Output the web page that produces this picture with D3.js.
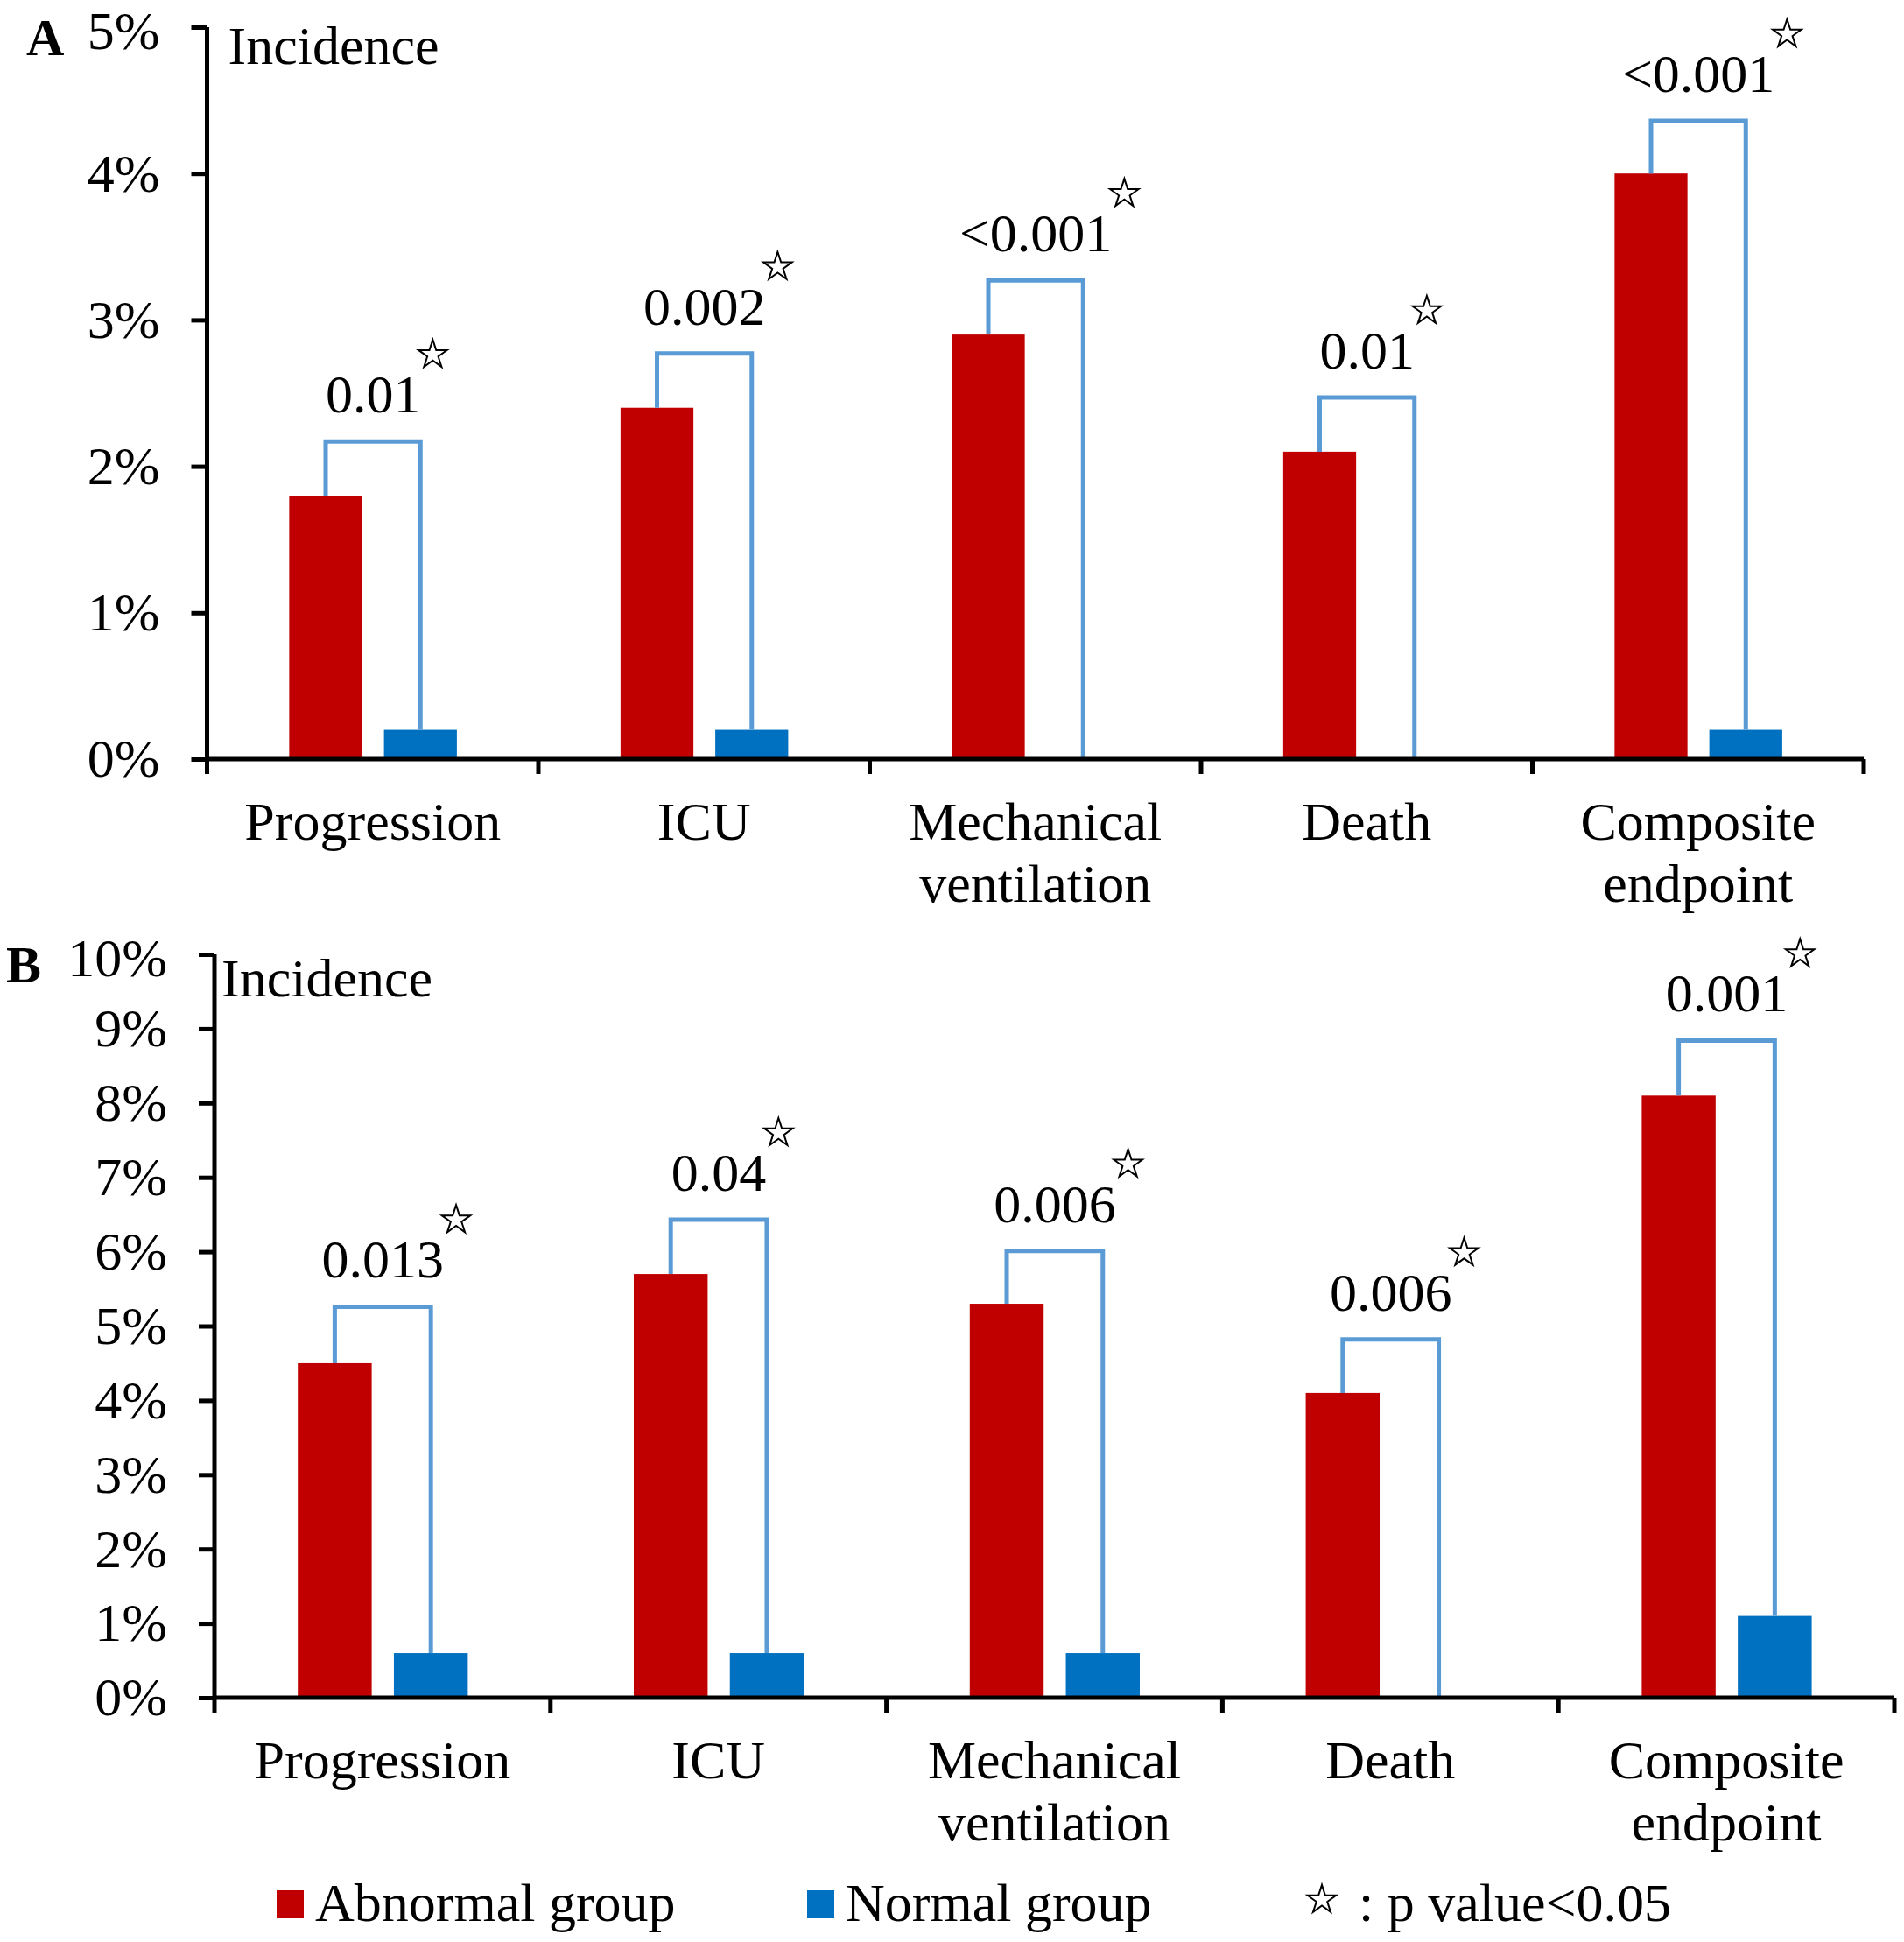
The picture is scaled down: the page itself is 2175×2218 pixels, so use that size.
<!DOCTYPE html>
<html>
<head>
<meta charset="utf-8">
<script src="https://cdn.jsdelivr.net/npm/d3@7"></script>
<style>
  body { margin: 0; background: #fff; }
  svg { display: block; }
  text { font-family: "Liberation Serif", "Times New Roman", serif; fill: #000; }
</style>
</head>
<body>
<svg id="chart" width="2175" height="2218"></svg>
<script>
// Categories (two-line labels split by \n)
const categories = ['Progression', 'ICU', 'Mechanical\nventilation', 'Death', 'Composite\nendpoint'];

// Panel A: incidence (%)
const abnormalA = [1.8, 2.4, 2.9, 2.1, 4.0];
const normalA   = [0.2, 0.2, 0.0, 0.0, 0.2];
const bracketA  = [2.17, 2.77, 3.27, 2.47, 4.36];
const pValuesA  = ['0.01', '0.002', '<0.001', '0.01', '<0.001'];
const ticksA    = [0, 1, 2, 3, 4, 5];

// Panel B: incidence (%)
const abnormalB = [4.5, 5.7, 5.3, 4.1, 8.1];
const normalB   = [0.6, 0.6, 0.6, 0.0, 1.1];
const bracketB  = [5.26, 6.43, 6.01, 4.82, 8.84];
const pValuesB  = ['0.013', '0.04', '0.006', '0.006', '0.001'];
const ticksB    = [0, 1, 2, 3, 4, 5, 6, 7, 8, 9, 10];

const RED = '#c00000', BLUE = '#0070c0', BRACKET = '#5b9bd5';
const FONT = 62;

const svg = d3.select('#chart');
svg.append('rect').attr('width', 2175).attr('height', 2218).attr('fill', '#fff');

const star = d3.symbol().type(d3.symbolStar).size(330);

function drawPanel(opt) {
    const g = svg.append('g');
    const x = d3.scaleBand().domain(categories).range([opt.left, opt.right]);
    const y = d3.scaleLinear().domain([0, opt.max]).range([opt.bottom, opt.top]);
    const bw = x.bandwidth();
    const barW = bw * 0.22;
    const redX  = c => x(c) + bw * 0.248;
    const blueX = c => x(c) + bw * 0.534;

    // bars
    g.selectAll('rect.abn').data(categories).join('rect')
        .attr('x', c => redX(c)).attr('width', barW)
        .attr('y', (c, i) => y(opt.abnormal[i]))
        .attr('height', (c, i) => y(0) - y(opt.abnormal[i]))
        .attr('fill', RED);
    g.selectAll('rect.nor').data(categories).join('rect')
        .attr('x', c => blueX(c)).attr('width', barW)
        .attr('y', (c, i) => y(opt.normal[i]))
        .attr('height', (c, i) => y(0) - y(opt.normal[i]))
        .attr('fill', BLUE);

    // significance brackets
    g.selectAll('path.br').data(categories).join('path')
        .attr('fill', 'none')
        .attr('stroke', BRACKET)
        .attr('stroke-width', 5)
        .attr('d', (c, i) => {
            const x1 = redX(c) + barW / 2, x2 = blueX(c) + barW / 2;
            return `M${x1},${y(opt.abnormal[i])}V${y(opt.bracket[i])}H${x2}V${y(opt.normal[i])}`;
        });

    // p-values + stars
    categories.forEach((c, i) => {
        const cx = (redX(c) + blueX(c) + barW) / 2;
        const base = y(opt.bracket[i]) - 33;
        const t = g.append('text')
            .attr('x', cx).attr('y', base)
            .attr('text-anchor', 'middle')
            .style('font-size', FONT + 'px')
            .text(opt.p[i]);
        const bb = t.node().getBBox();
        g.append('path')
            .attr('d', star)
            .attr('transform', `translate(${bb.x + bb.width + 14},${base - 66})`)
            .attr('fill', '#fff').attr('stroke', '#000').attr('stroke-width', 2);
    });

    // y axis
    const yAxis = g.append('g')
        .attr('transform', `translate(${opt.left},0)`)
        .call(d3.axisLeft(y).tickValues(opt.ticks).tickFormat(d => d + '%')
            .tickSize(18).tickPadding(opt.tickPad));
    yAxis.select('.domain').attr('stroke', '#000').attr('stroke-width', 5)
        .attr('d', `M0,${opt.top}V${opt.bottom}`);
    yAxis.selectAll('.tick line').attr('stroke', '#000').attr('stroke-width', 5);
    yAxis.selectAll('.tick text')
        .attr('font-family', null)
        .style('font-size', FONT + 'px').attr('fill', '#000');
    // keep the top label inside the page edge
    yAxis.selectAll('.tick text').filter(d => d === opt.max).attr('dy', '0.4em');

    // x axis with ticks at category boundaries
    const xg = g.append('g');
    xg.append('line')
        .attr('x1', opt.left).attr('x2', opt.right)
        .attr('y1', opt.bottom).attr('y2', opt.bottom)
        .attr('stroke', '#000').attr('stroke-width', 5);
    const bounds = categories.map(c => x(c)).concat([opt.right]);
    xg.selectAll('line.xt').data(bounds).join('line')
        .attr('x1', d => d).attr('x2', d => d)
        .attr('y1', opt.bottom).attr('y2', opt.bottom + 17)
        .attr('stroke', '#000').attr('stroke-width', 5);
    categories.forEach(c => {
        const lines = c.split('\n');
        const t = xg.append('text')
            .attr('text-anchor', 'middle')
            .style('font-size', FONT + 'px');
        lines.forEach((l, k) => {
            t.append('tspan')
                .attr('x', x(c) + bw / 2)
                .attr('y', opt.bottom + 92 + k * 71)
                .text(l);
        });
    });

    // axis title and panel letter
    g.append('text').attr('x', opt.left + opt.titleDx).attr('y', opt.top + 42 + opt.titleDy)
        .style('font-size', FONT + 'px').text('Incidence');
    g.append('text').attr('x', opt.letterX).attr('y', opt.top + 32)
        .style('font-size', '60px').style('font-weight', 'bold').text(opt.letter);
}

drawPanel({
    letter: 'A', letterX: 30, titleDx: 24, titleDy: 0, tickPad: 36,
    left: 236.5, right: 2129, top: 31, bottom: 867, max: 5,
    abnormal: abnormalA, normal: normalA, bracket: bracketA, p: pValuesA, ticks: ticksA
});
drawPanel({
    letter: 'B', letterX: 7, titleDx: 8, titleDy: 6, tickPad: 36,
    left: 245, right: 2164, top: 1090, bottom: 1939, max: 10,
    abnormal: abnormalB, normal: normalB, bracket: bracketB, p: pValuesB, ticks: ticksB
});

// legend
const legend = [
    { label: 'Abnormal group', color: RED,  x: 316 },
    { label: 'Normal group',   color: BLUE, x: 922 }
];
const lg = svg.append('g');
legend.forEach(d => {
    lg.append('rect').attr('x', d.x).attr('y', 2159).attr('width', 31).attr('height', 32).attr('fill', d.color);
    lg.append('text').attr('x', d.x + 44).attr('y', 2194).style('font-size', FONT + 'px').text(d.label);
});
lg.append('path').attr('d', star).attr('transform', 'translate(1510,2170)')
    .attr('fill', '#fff').attr('stroke', '#000').attr('stroke-width', 2);
lg.append('text').attr('x', 1552).attr('y', 2194).style('font-size', FONT + 'px').text(': p value<0.05');
</script>
</body>
</html>
